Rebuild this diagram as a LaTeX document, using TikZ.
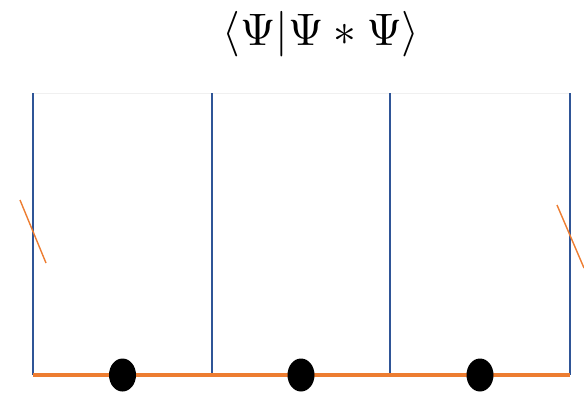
\documentclass[tikz,border=0pt]{standalone}
\usepackage{tikz}
\usetikzlibrary{shapes.geometric, positioning}
\definecolor{myblue}{RGB}{47,85,151}
\definecolor{myorange}{RGB}{237,125,49}
\definecolor{mygray}{RGB}{240,240,240}
\tikzset{
  wall/.style={color=myblue, line width=2.8pt},
  base/.style={color=myorange, line width=4.2pt},
  glue/.style={color=myorange, line width=1.4pt},
  topedge/.style={color=mygray, line width=1pt},
  puncture/.style={ellipse, fill=black, minimum width=27pt,
    minimum height=33pt, inner sep=0pt}
}

\begin{document}
\begin{tikzpicture}[x=1pt, y=-1pt]
  \useasboundingbox (0,0) rectangle (584,397);
  % ── Title ──────────────────────────────────────────────────────────────
  \node[scale=4.55, inner sep=0pt] (title) at (321,34) {$\langle\Psi|\Psi*\Psi\rangle$};
  % ── Strip corners ──────────────────────────────────────────────────────
  \foreach \i/\x in {0/33, 1/212, 2/390, 3/570} {
    \coordinate (t\i) at (\x,93);
    \coordinate (b\i) at (\x,375);
  }
  % top edge, faint
  \draw[topedge] (t0) -- (t3);
  % walls between the strips
  \foreach \i in {0,...,3}
    \draw[wall] (t\i) -- (b\i);
  % boundary line
  \draw[base] (b0) -- (b3);
  % punctures — one in the middle of each strip
  \path (b0) -- (b1) node[puncture, midway] (p1) {};
  \path (b1) -- (b2) node[puncture, midway] (p2) {};
  \path (b2) -- (b3) node[puncture, midway] (p3) {};
  % ── Gluing marks on the outer walls ────────────────────────────────────
  \coordinate (gl1) at (20,200);
  \coordinate (gl2) at (46,263);
  \coordinate (gr1) at (557,205);
  \coordinate (gr2) at (584,268);
  \draw[glue] (gl1) -- (gl2);
  \draw[glue] (gr1) -- (gr2);
\end{tikzpicture}
\end{document}
